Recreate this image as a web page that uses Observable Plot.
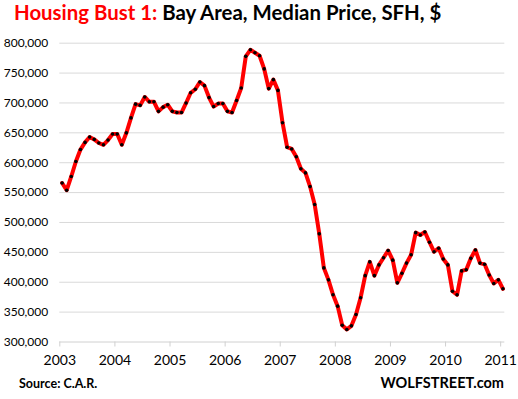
<!DOCTYPE html>
<html><head><meta charset="utf-8">
<script src="https://cdn.jsdelivr.net/npm/d3@7"></script>
<script src="https://cdn.jsdelivr.net/npm/@observablehq/plot@0.6"></script>
<style>
html,body{margin:0;padding:0;background:#fff;}
#wrap{position:relative;width:518px;height:399px;overflow:hidden;font-family:Lato,sans-serif;}
#title{position:absolute;left:14px;top:1px;font-size:20.4px;line-height:22px;font-weight:700;color:#000;white-space:nowrap;}
#title .red{color:#ff0000;}
#chart{position:absolute;left:0;top:32px;}
#source{position:absolute;left:19px;top:377px;font-size:12.5px;line-height:14px;font-weight:700;color:#000;}
#wolf{position:absolute;right:14px;top:374px;font-size:14.5px;line-height:17px;font-weight:700;color:#000;}
</style></head>
<body><div id="wrap">
<div id="title"><span class="red">Housing Bust 1:</span> Bay Area, Median Price, SFH, $</div>
<div id="chart"></div>
<div id="source">Source: C.A.R.</div>
<div id="wolf">WOLFSTREET.com</div>
</div>
<script>
const startYear = 2003;
// monthly median price, Jan 2003 .. Jan 2011
const prices = [
  566000, 554000, 577000, 602000, 622000, 634000, 643000, 639000, 633000, 630000, 638000, 648000,
  648000, 630000, 650000, 675000, 698000, 696000, 710000, 702000, 702000, 686000, 693000, 697000,
  686000, 684000, 684000, 700000, 717000, 723000, 735000, 729000, 709000, 694000, 699000, 699000,
  686000, 684000, 704000, 725000, 778000, 789000, 784000, 779000, 757000, 724000, 739000, 721000,
  667000, 626000, 623000, 610000, 590000, 583000, 560000, 530000, 481000, 424000, 404000, 379000,
  360000, 328000, 321000, 327000, 346000, 374000, 411000, 434000, 411000, 429000, 441000, 453000,
  437000, 399000, 415000, 432000, 446000, 483000, 479000, 484000, 467000, 451000, 457000, 439000,
  429000, 385000, 379000, 419000, 421000, 440000, 454000, 432000, 430000, 412000, 398000, 404000,
  389000
];
const yearLabels = ["2003","2004","2005","2006","2007","2008","2009","2010","2011"];
const yTicks = [300000,350000,400000,450000,500000,550000,600000,650000,700000,750000,800000];

const data = prices.map((v, i) => ({month: i, price: v}));
const yearTicks = yearLabels.map((y, k) => k * 12 - 0.5);
const fmt = d3.format(",");

const chart = Plot.plot({
  width: 518,
  height: 340,
  marginLeft: 59.3,
  marginRight: 13.7,
  marginTop: 10.7,
  marginBottom: 30.5,
  style: {fontFamily: "Lato, sans-serif", fontSize: "12px", color: "#000", background: "#fff"},
  x: {domain: [-0.5, 96.4], axis: null, label: null},
  y: {domain: [300000, 800000], axis: null, label: null},
  marks: [
    Plot.ruleY(yTicks.slice(1), {stroke: "#d9d9d9", strokeWidth: 1}),
    Plot.ruleY([300000], {stroke: "#d0d0d0", strokeWidth: 1}),
    Plot.axisY(yTicks, {tickSize: 0, tickPadding: 11.6, tickFormat: fmt, fontSize: 12, fill: "#000", label: null}),
    Plot.axisX(yearTicks, {tickSize: 5, stroke: "#d0d0d0", text: null, label: null}),
    Plot.axisX(yearTicks, {tickSize: 0, tickPadding: 13, fontSize: 14, fill: "#000", label: null,
      tickFormat: d => yearLabels[Math.round((d + 0.5) / 12)]}),
    Plot.line(data, {x: "month", y: "price", stroke: "#ff0000", strokeWidth: 4, strokeLinejoin: "round"}),
    Plot.dot(data, {x: "month", y: "price", r: 1.8, fill: "#000", stroke: "none"})
  ]
});
document.getElementById("chart").appendChild(chart);
</script>
</body></html>
